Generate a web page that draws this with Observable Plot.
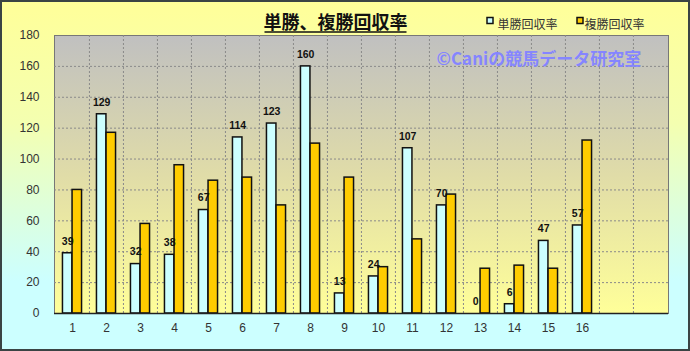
<!DOCTYPE html>
<html><head><meta charset="utf-8">
<script src="https://cdn.jsdelivr.net/npm/d3@7"></script>
<script src="https://cdn.jsdelivr.net/npm/@observablehq/plot@0.6"></script>
<style>body{margin:0;overflow:hidden;}</style>
</head><body><div id="chart"></div>
<script>
const categories = ["1","2","3","4","5","6","7","8","9","10","11","12","13","14","15","16"];
const emptySlots = ["17","18"];
const tanshoValues = [39,129,32,38,67,114,123,160,13,24,107,70,0,6,47,57];
const fukushoValues = [80,117,58,96,86,88,70,110,88,30,48,77,29,31,29,112];
const yTicks = [0,20,40,60,80,100,120,140,160,180];
const seriesNames = ["単勝回収率","複勝回収率"];
const seriesColors = ["#ccffff","#ffcc00"];
const titleText = "単勝、複勝回収率";
const watermarkText = "©Caniの競馬データ研究室";

const W = 690, H = 351, mL = 54, mR = 22, mT = 35, mB = 38;
const domain = [...categories, ...emptySlots];
const bw = (W - mL - mR) / domain.length;
const barW = 9.6;
const inner = bw / 2 - barW;

const rows = categories.map((c, i) => ({cat: c, tan: tanshoValues[i], fuku: fukushoValues[i]}));

const dash = {stroke: "#8a8a8a", strokeDasharray: "2,2", strokeWidth: 1};
const jp = "'Noto Sans CJK JP', sans-serif";

const chart = Plot.plot({
  width: W, height: H,
  marginLeft: mL, marginRight: mR, marginTop: mT, marginBottom: mB,
  style: "background: linear-gradient(#ffff99 0%, #f4ffb0 35%, #ddffdd 60%, #ccffff 80%, #ccffff 100%); font-family: 'Liberation Sans', Arial, 'Noto Sans CJK JP', sans-serif; font-size: 12px; color: #333; outline: 2px solid #3a4444; outline-offset: -2px;",
  x: {domain, padding: 0, tickSize: 0, tickPadding: 10, label: null,
      tickFormat: d => categories.includes(d) ? d : ""},
  y: {domain: [0, 180], ticks: yTicks, tickSize: 0, tickPadding: 15, label: null},
  marks: [
    Plot.frame({fill: "#c0c0c0", stroke: "#777", ariaLabel: "plot-bg"}),
    Plot.ruleY(yTicks.slice(1, -1), dash),
    Plot.ruleX(domain.slice(1), {...dash, dx: -bw / 2}),
    Plot.barY(rows, {x: "cat", y: "tan", insetLeft: inner, insetRight: bw / 2,
      fill: seriesColors[0], stroke: "#111", strokeWidth: 1.5, ariaLabel: "tan-bars"}),
    Plot.barY(rows, {x: "cat", y: "fuku", insetLeft: bw / 2, insetRight: inner,
      fill: seriesColors[1], stroke: "#111", strokeWidth: 1.5, ariaLabel: "fuku-bars"}),
    Plot.ruleY([0], {stroke: "#222", strokeWidth: 1.5}),
    Plot.text(rows, {x: "cat", y: "tan", text: d => String(d.tan), dx: -barW / 2, dy: -12,
      fontWeight: "bold", fontSize: 10.5, fill: "#111"}),
    Plot.text([titleText], {frameAnchor: "top-left", dx: 281, dy: -19, text: d => d,
      fontSize: 18, fontWeight: "bold", fill: "#111", textAnchor: "middle",
      fontFamily: jp}),
    Plot.text([seriesNames[0]], {frameAnchor: "top-left", dx: 443, dy: -15, text: d => d,
      fontSize: 12, fill: "#333", textAnchor: "start", fontFamily: jp}),
    Plot.text([seriesNames[1]], {frameAnchor: "top-left", dx: 530, dy: -15, text: d => d,
      fontSize: 12, fill: "#333", textAnchor: "start", fontFamily: jp}),
    Plot.text([watermarkText], {frameAnchor: "top-left", dx: 382, dy: 17, text: d => d,
      fontSize: 17, fontWeight: "bold", fill: "#8585ff", textAnchor: "start",
      fontFamily: jp})
  ]
});

document.getElementById("chart").appendChild(chart);

const svg = d3.select(chart);
const defs = svg.insert("defs", ":first-child");
function grad(id, stops, vertical) {
  const g = defs.append("linearGradient").attr("id", id)
    .attr("x1", 0).attr("y1", 0).attr("x2", vertical ? 0 : 1).attr("y2", vertical ? 1 : 0);
  stops.forEach(([o, c]) => g.append("stop").attr("offset", o).attr("stop-color", c));
}
grad("bgPlot", [[0, "#c0c0c0"], [0.5, "#e0dca8"], [1, "#ffff99"]], true);
grad("gTan", [[0, "#7fb8b8"], [0.25, "#d8ffff"], [0.7, "#c4f4f4"], [1, "#8cc4c4"]], false);
grad("gFuku", [[0, "#c89000"], [0.3, "#ffcc00"], [0.7, "#f4c000"], [1, "#c08800"]], false);

function setFill(label, id) {
  svg.selectAll(`[aria-label="${label}"]`).attr("fill", `url(#${id})`);
  svg.selectAll(`[aria-label="${label}"] rect`).attr("fill", `url(#${id})`);
}
setFill("plot-bg", "bgPlot");
setFill("tan-bars", "gTan");
setFill("fuku-bars", "gFuku");

// title underline
let ux1 = 263, ux2 = 407;
const tsel = svg.selectAll("text").filter(function() { return this.textContent === titleText; });
if (!tsel.empty()) {
  const r = tsel.node().getBoundingClientRect();
  const s = chart.getBoundingClientRect();
  if (r.width > 0) { ux1 = r.left - s.left + 1; ux2 = r.right - s.left - 1; }
}
svg.append("line").attr("x1", ux1).attr("x2", ux2)
  .attr("y1", 32).attr("y2", 32).attr("stroke", "#111").attr("stroke-width", 1.5);

// legend swatches
const sw = [[487, seriesColors[0]], [577, seriesColors[1]]];
sw.forEach(([x, c]) => svg.append("rect").attr("x", x).attr("y", 17.5).attr("width", 6).attr("height", 6)
  .attr("fill", c).attr("stroke", "#111").attr("stroke-width", 1.5));
</script>
</body></html>
